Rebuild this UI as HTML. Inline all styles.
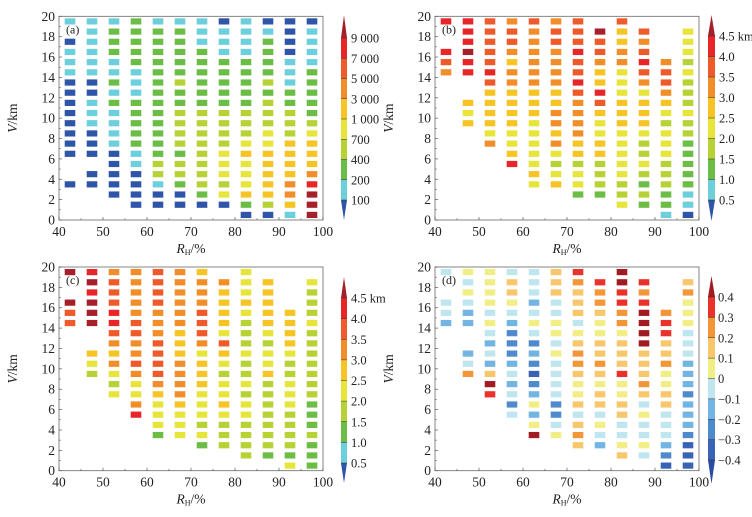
<!DOCTYPE html>
<html><head><meta charset="utf-8"><style>
body{margin:0;background:#fff;}
svg text{font-family:"Liberation Serif",serif;fill:#222;}
</style></head><body>
<svg id="chart" width="752" height="512" xmlns="http://www.w3.org/2000/svg"></svg>
<script>
const rhCategories=[42.5,47.5,52.5,57.5,62.5,67.5,72.5,77.5,82.5,87.5,92.5,97.5];
const heightCategories=[19.5,18.5,17.5,16.5,15.5,14.5,13.5,12.5,11.5,10.5,9.5,8.5,7.5,6.5,5.5,4.5,3.5,2.5,1.5,0.5];
const panelAValues=["1.011100000000..0...","11111100111000.00...","122211212111100000..","2222211122222110000.","1222222222222233100.","1222223223333233200.","1112222223333333320.","0111222223333444340.","11112222233345444520","01222232333445555530","00001112233355556651","01111222223455568999"];
const panelBValues=["8..876..............","888988..545.........","7777787555546.......","677656655554458.....","76666665554444454...","67766665566564345...","777877876666553442..",".97765587544553332..","7556644455544444334.",".767876455543343232.","....6776543444333221",".4443433343322222110"];
const panelCValues=["9..977..............","898999..543.........","6777887656434.......","666667766764468.....","77776667777654442...","66666655566665444...","566677764555444342..",".65555475434454333..","4445433343343443333.",".555554344533333332.","....5555433444333324",".4333433333332223222"];
const panelDValues=["4..443..............","545433..347.........","5555454343698.......","466543222343424.....","44434542321235359...","66644554544442245...","876664567765564676..",".87765566765664543..","9988775666855664456.",".878999966676454454.","....7886675566444321",".6755544433323332111"];
const tickX=[40,50,60,70,80,90,100];
const tickY=[0,2,4,6,8,10,12,14,16,18,20];
const barLabelsA=["9 000","7 000","5 000","3 000","1 000","700","400","200","100"];
const barLabelsB=["4.5 km","4.0","3.5","3.0","2.5","2.0","1.5","1.0","0.5"];
const barLabelsD=["0.4","0.3","0.2","0.1","0","\u22120.1","\u22120.2","\u22120.3","\u22120.4"];
const colorsMain=["#2f55a8","#6ccfdc","#6cbd45","#b7d234","#e8e53a","#f6c525","#f18e2a","#ee5a2a","#e8262a","#a5202a"];
const colorsDiff=["#2a4ca0","#3a63b5","#4f8acc","#72b4e2","#bfe6ef","#f2ee86","#f8c66b","#f39638","#e8322a","#a11c22"];

const svg=document.getElementById('chart');
const NS="http://www.w3.org/2000/svg";
function mk(tag,attrs,parent){const e=document.createElementNS(NS,tag);for(const k in attrs)e.setAttribute(k,attrs[k]);(parent||svg).appendChild(e);return e;}

function panel(ox,oy,values,colors,letter,bar,barLabels){
  const L=ox+59,R=ox+323,T=oy+16.3,B=oy+220;
  const xs=v=>L+(v-40)/60*(R-L);
  const ys=v=>B-v/20*(B-T);
  const g=mk('g',{});
  
  
  rhCategories.forEach((rh,ci)=>{
    const col=values[ci]||"";
    heightCategories.forEach((h,ri)=>{
      const ch=col[ri];
      if(!ch||ch==='.')return;
      const r=mk('rect',{x:xs(rh)-5.3,y:ys(h)-3.1,width:10.6,height:6.2,fill:colors[+ch]},g);
      
      
    });
  });
  const frame=mk('rect',{x:L,y:T,width:R-L,height:B-T,fill:'none',stroke:'#666','stroke-width':0.8},g);
  
  
  tickX.forEach(t=>{
    mk('line',{x1:xs(t),x2:xs(t),y1:B,y2:B-3,stroke:'#555','stroke-width':0.7},g);
    if(t<100){mk('line',{x1:xs(t+5),x2:xs(t+5),y1:B,y2:B-1.8,stroke:'#555','stroke-width':0.6},g);}
    const tx=mk('text',{x:xs(t),y:B+16,'text-anchor':'middle','font-size':13.5},g);
    tx.textContent=t;
    
    
  });
  tickY.forEach(t=>{
    mk('line',{x1:L,x2:L+3,y1:ys(t),y2:ys(t),stroke:'#555','stroke-width':0.7},g);
    if(t<20)mk('line',{x1:L,x2:L+1.8,y1:ys(t+1),y2:ys(t+1),stroke:'#555','stroke-width':0.6},g);
    const ty=mk('text',{x:L-4,y:ys(t)+4.5,'text-anchor':'end','font-size':13.5},g);
    ty.textContent=t;
    
    
  });
  const lb=mk('text',{x:L+7,y:T+17,'font-size':12},g);
  lb.textContent='('+letter+')';
  
  
  const yt=mk('text',{x:ox+17,y:(T+B)/2,'text-anchor':'middle','font-size':13.5,transform:`rotate(-90 ${ox+17} ${(T+B)/2})`},g);
  yt.innerHTML='<tspan font-style="italic">V</tspan>/km';
  
  
  const xt=mk('text',{x:(L+R)/2,y:B+33,'text-anchor':'middle','font-size':13.5},g);
  xt.innerHTML='<tspan font-style="italic">R</tspan><tspan font-size="8" dy="2">H</tspan><tspan dy="-2">/%</tspan>';
  
  
  const cb=mk('g',{},g);
  
  
  const {x,w,tip,first,last,bot,lx}=bar;
  const step=(last-first)/8;
  const bounds=[];for(let i=0;i<9;i++)bounds.push(first+i*step);
  mk('polygon',{points:`${x+w/2},${tip} ${x+w},${first} ${x},${first}`,fill:colors[9]},cb);
  for(let i=0;i<8;i++){mk('rect',{x:x,y:bounds[i],width:w,height:step+0.3,fill:colors[8-i]},cb);}
  mk('polygon',{points:`${x},${last} ${x+w},${last} ${x+w/2},${bot}`,fill:colors[0]},cb);
  barLabels.forEach((s,i)=>{
    mk('line',{x1:x,x2:x+w,y1:bounds[i],y2:bounds[i],stroke:'#333','stroke-width':0.5},cb);
    const t=mk('text',{x:lx,y:bounds[i]+4.5,'font-size':12.5},cb);
    t.textContent=s;
    
    
  });
}
panel(0,0,panelAValues,colorsMain,'a',{x:341,w:6,tip:15,first:38,last:200,bot:220,lx:351},barLabelsA);
panel(376,0,panelBValues,colorsMain,'b',{x:708,w:7,tip:15,first:36,last:200,bot:221,lx:719},barLabelsB);
panel(0,250.7,panelCValues,colorsMain,'c',{x:341,w:6,tip:277,first:298,last:463,bot:483,lx:351},barLabelsB);
panel(376,250.7,panelDValues,colorsDiff,'d',{x:708,w:7,tip:276,first:297,last:460,bot:484,lx:718},barLabelsD);
</script>
</body></html>
